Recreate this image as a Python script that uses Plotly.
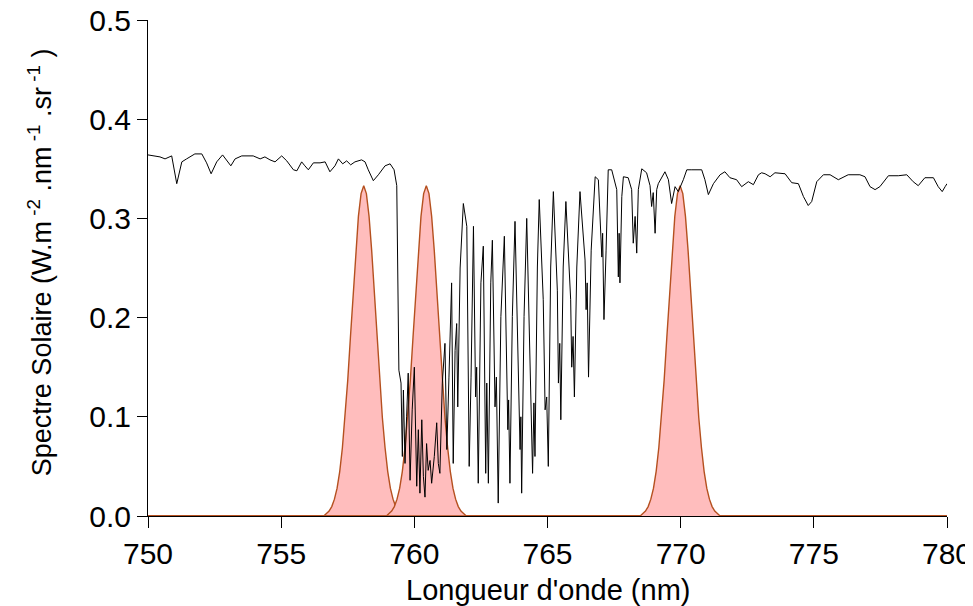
import plotly.graph_objects as go

# ---- Solar spectrum ----
WAVELENGTH_NM = [
    750.00, 750.45, 750.64, 750.89, 751.08, 751.27, 751.45, 751.76, 752.02, 752.20,
    752.37, 752.58, 752.80, 752.98, 753.11, 753.27, 753.52, 753.95, 754.21, 754.39,
    754.58, 754.77, 755.02, 755.21, 755.46, 755.59, 755.77, 755.89, 756.02, 756.21,
    756.46, 756.65, 756.83, 757.02, 757.15, 757.31, 757.46, 757.61, 757.77, 758.02,
    758.15, 758.27, 758.46, 758.65, 758.90, 759.09, 759.24, 759.34, 759.38, 759.42,
    759.50, 759.55,
    759.59, 759.65, 759.71, 759.77, 759.84, 759.92, 760.00, 760.09, 760.15, 760.21,
    760.28, 760.34, 760.40, 760.46, 760.52, 760.59, 760.65, 760.75, 760.84, 760.90,
    760.96, 761.05, 761.15, 761.22, 761.30, 761.40, 761.46, 761.53, 761.59, 761.63,
    761.72, 761.84,
    761.97, 762.03, 762.06, 762.13, 762.22, 762.30, 762.34, 762.40, 762.50, 762.59,
    762.68, 762.72, 762.78, 762.87, 762.93, 763.03, 763.08, 763.15, 763.25, 763.38,
    763.51, 763.54, 763.59, 763.68, 763.78, 763.97, 764.00, 764.03, 764.12, 764.22,
    764.38, 764.44, 764.49, 764.53, 764.62, 764.69, 764.84, 764.91, 764.97, 765.03,
    765.12, 765.22, 765.37, 765.41, 765.46, 765.50, 765.59, 765.69, 765.87, 765.91,
    765.96, 766.01, 766.10, 766.22, 766.41, 766.45, 766.49, 766.54, 766.64, 766.79,
    766.91, 767.04, 767.07, 767.12, 767.20, 767.28, 767.41, 767.60, 767.66, 767.69,
    767.72, 767.79, 767.85, 768.03, 768.16, 768.22, 768.29, 768.35, 768.41, 768.54,
    768.72, 768.85, 768.91, 768.97, 769.04, 769.10, 769.16, 769.41, 769.54, 769.66,
    769.79, 769.91, 770.10, 770.23, 770.42, 770.79, 770.91, 771.04, 771.23, 771.35,
    771.48, 771.66, 771.85, 772.10, 772.29, 772.54, 772.73, 772.92, 773.04, 773.17,
    773.36, 773.54, 773.92, 774.17, 774.42, 774.61, 774.79, 774.92, 775.11, 775.36,
    775.61, 775.92, 776.29, 776.73, 776.92, 777.11, 777.30, 777.48, 777.80, 778.17,
    778.49, 778.73, 778.92, 779.17, 779.49, 779.67, 779.82, 779.93, 780.00,
]

SOLAR_SPECTRUM = [
    0.364, 0.362, 0.360, 0.363, 0.335, 0.357, 0.360, 0.365, 0.365, 0.356,
    0.345, 0.357, 0.364, 0.357, 0.353, 0.360, 0.363, 0.363, 0.360, 0.362,
    0.359, 0.357, 0.363, 0.358, 0.349, 0.348, 0.357, 0.353, 0.349, 0.356,
    0.356, 0.357, 0.347, 0.353, 0.360, 0.355, 0.358, 0.354, 0.357, 0.359,
    0.357, 0.349, 0.338, 0.344, 0.353, 0.355, 0.349, 0.333, 0.228, 0.147,
    0.134, 0.060,
    0.127, 0.053, 0.100, 0.144, 0.036, 0.107, 0.150, 0.030, 0.087, 0.023,
    0.097, 0.040, 0.019, 0.073, 0.046, 0.056, 0.033, 0.060, 0.094, 0.053,
    0.043, 0.134, 0.174, 0.067, 0.140, 0.235, 0.053, 0.167, 0.194, 0.110,
    0.250, 0.315,
    0.292, 0.154, 0.050, 0.140, 0.292, 0.120, 0.150, 0.033, 0.235, 0.272,
    0.043, 0.134, 0.033, 0.235, 0.278, 0.110, 0.140, 0.013, 0.201, 0.282,
    0.087, 0.117, 0.033, 0.201, 0.297, 0.067, 0.100, 0.023, 0.201, 0.300,
    0.134, 0.043, 0.114, 0.060, 0.251, 0.319, 0.218, 0.107, 0.120, 0.050,
    0.251, 0.327, 0.227, 0.134, 0.174, 0.097, 0.251, 0.317, 0.218, 0.150,
    0.181, 0.120, 0.251, 0.327, 0.258, 0.208, 0.235, 0.140, 0.268, 0.342,
    0.339, 0.261, 0.285, 0.198, 0.268, 0.349, 0.349, 0.329, 0.241, 0.285,
    0.235, 0.322, 0.342, 0.341, 0.329, 0.275, 0.302, 0.265, 0.329, 0.350,
    0.346, 0.333, 0.312, 0.326, 0.285, 0.329, 0.335, 0.347, 0.339, 0.315,
    0.332, 0.327, 0.339, 0.349, 0.349, 0.349, 0.339, 0.324, 0.335, 0.339,
    0.344, 0.347, 0.341, 0.339, 0.332, 0.337, 0.334, 0.344, 0.346, 0.345,
    0.342, 0.346, 0.345, 0.336, 0.335, 0.322, 0.313, 0.317, 0.337, 0.344,
    0.344, 0.339, 0.344, 0.344, 0.342, 0.332, 0.329, 0.332, 0.343, 0.343,
    0.344, 0.337, 0.333, 0.341, 0.341, 0.332, 0.327, 0.332, 0.335,
]

# ---- Filter transmission profiles (same shape, three centres) ----
FILTER_CENTERS_NM = [758.10, 760.45, 769.98]
FILTER_OFFSETS_NM = [
    -1.5, -1.4, -1.3, -1.2, -1.1, -1.0, -0.9, -0.8, -0.7, -0.6, -0.5, -0.4, -0.3, -0.2, -0.1,
    0.0, 0.1, 0.2, 0.3, 0.4, 0.5, 0.6, 0.7, 0.8, 0.9, 1.0, 1.1, 1.2, 1.3, 1.4, 1.5,
]
FILTER_RESPONSE = [
    0.0, 0.0026, 0.005, 0.0095, 0.017, 0.028, 0.045, 0.069, 0.099, 0.137, 0.180,
    0.224, 0.267, 0.302, 0.325, 0.333, 0.325, 0.302, 0.267, 0.224, 0.180, 0.137,
    0.099, 0.069, 0.045, 0.028, 0.017, 0.0095, 0.005, 0.0026, 0.0,
]
X_RANGE = [750, 780]
Y_RANGE = [0, 0.5]

X_TICKS = [750, 755, 760, 765, 770, 775, 780]
Y_TICKS = [0.0, 0.1, 0.2, 0.3, 0.4, 0.5]

X_TITLE = "Longueur d'onde (nm)"
Y_TITLE = "Spectre Solaire (W.m<sup> -2</sup> .nm<sup> -1</sup> .sr<sup> -1</sup> )"

FONT = "Liberation Sans, Arial, sans-serif"

fig = go.Figure()

for c in FILTER_CENTERS_NM:
    xs = [X_RANGE[0]] + [round(c + o, 3) for o in FILTER_OFFSETS_NM] + [X_RANGE[1]]
    ys = [0.0] + FILTER_RESPONSE + [0.0]
    fig.add_trace(go.Scatter(
        x=xs, y=ys, mode="lines", line=dict(color="#b5501f", width=1.4),
        fill="tozeroy", fillcolor="#ffbdbd", showlegend=False, hoverinfo="skip",
    ))

fig.add_trace(go.Scatter(
    x=WAVELENGTH_NM, y=SOLAR_SPECTRUM, mode="lines",
    line=dict(color="black", width=1), showlegend=False,
))

# the page body adds an 8 px offset, so the figure is 8 px smaller than the window
fig.update_layout(
    width=965, height=598,
    margin=dict(l=140, r=26, t=12, b=90, autoexpand=False),
    plot_bgcolor="white", paper_bgcolor="white",
    font=dict(family=FONT, size=30, color="black"),
    annotations=[
        dict(text=X_TITLE, xref="paper", yref="paper", x=0.5, y=-0.149,
             xanchor="center", yanchor="middle", showarrow=False,
             font=dict(size=29)),
        dict(text=Y_TITLE, xref="paper", yref="paper", x=-0.135, y=0.512,
             xanchor="center", yanchor="middle", showarrow=False, textangle=-90,
             font=dict(size=27)),
    ],
)
fig.update_xaxes(
    range=X_RANGE, tickvals=X_TICKS, ticks="outside", ticklen=11, tickwidth=1,
    tickcolor="black", showline=True, linecolor="black", linewidth=1,
    showgrid=False, zeroline=False, automargin=False, layer="below traces",
    tickfont=dict(size=30), ticklabeloverflow="allow",
)
fig.update_yaxes(
    range=Y_RANGE, tickvals=Y_TICKS, tickformat=".1f", ticks="outside", ticklen=10,
    tickwidth=1, tickcolor="black", showline=True, linecolor="black", linewidth=1,
    showgrid=False, zeroline=False, automargin=False, layer="below traces",
    tickfont=dict(size=30), ticklabeloverflow="allow",
)

fig.write_html("out.html")
